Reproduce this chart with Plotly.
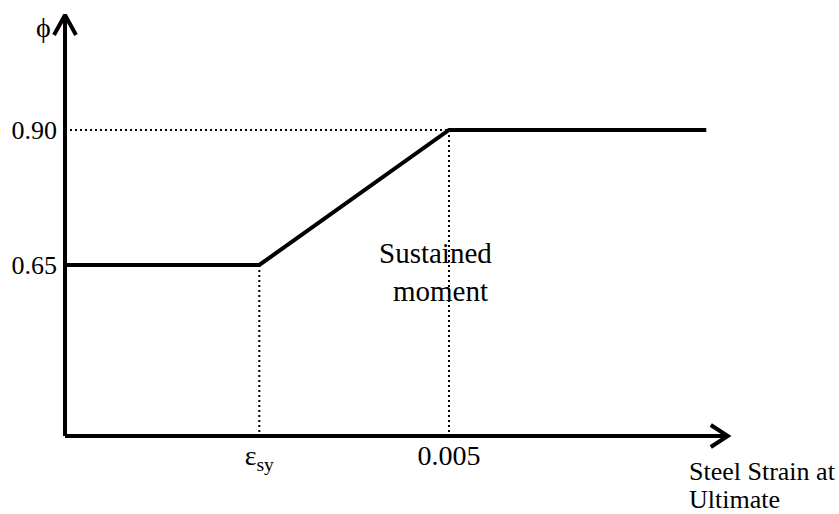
import plotly.graph_objects as go

# ---- data ----
phi_curve_x = [0.0, 0.00253, 0.005, 0.00835]   # steel strain (schematic)
phi_curve_y = [0.65, 0.65, 0.90, 0.90]           # strength reduction factor
eps_sy = 0.00253
eps_t = 0.005
phi_low = 0.65
phi_high = 0.90
x_tick_vals = [0.00253, 0.005]
x_tick_text = ["ε<sub>sy</sub>", "0.005"]
y_tick_vals = [0.65, 0.90]
y_tick_text = ["0.65", "0.90"]
x_origin, y_origin = 0.0, 0.3333
x_tip, y_tip = 0.00863, 1.113

# ---- figure geometry ----
W, H = 839, 514
OX, OY = 65, 436            # pixel position of the origin
kx = 0.005 / 384            # data units per pixel (x)
ky = 0.25 / 135             # data units per pixel (y)
x_range = [x_origin - OX * kx, x_origin + (W - OX) * kx]
y_range = [y_origin - (H - OY) * ky, y_origin + OY * ky]

FONT = "Liberation Serif, Times New Roman, serif"
fig = go.Figure()

# dotted guide lines
dot = dict(color="black", width=2, dash="2px,3px")
fig.add_trace(go.Scatter(x=[x_origin, eps_t], y=[phi_high, phi_high], mode="lines", line=dot, hoverinfo="skip"))
fig.add_trace(go.Scatter(x=[eps_sy, eps_sy], y=[phi_low, y_origin], mode="lines", line=dot, hoverinfo="skip"))
fig.add_trace(go.Scatter(x=[eps_t, eps_t], y=[phi_high, y_origin], mode="lines", line=dot, hoverinfo="skip"))

# main curve
fig.add_trace(go.Scatter(x=phi_curve_x, y=phi_curve_y, mode="lines",
                         line=dict(color="black", width=4), hoverinfo="skip"))

# axes with arrows
ax_line = dict(color="black", width=4)
fig.add_trace(go.Scatter(x=[x_origin, x_tip], y=[y_origin, y_origin], mode="lines", line=ax_line, hoverinfo="skip"))
fig.add_trace(go.Scatter(x=[x_origin, x_origin], y=[y_origin, y_tip], mode="lines", line=ax_line, hoverinfo="skip"))
# chevron heads
L, Wd = 17, 11
fig.add_trace(go.Scatter(x=[x_tip - L * kx, x_tip, x_tip - L * kx],
                         y=[y_origin + Wd * ky, y_origin, y_origin - Wd * ky],
                         mode="lines", line=dict(color="black", width=4), hoverinfo="skip"))
fig.add_trace(go.Scatter(x=[x_origin - Wd * kx, x_origin, x_origin + Wd * kx],
                         y=[y_tip - 20 * ky, y_tip, y_tip - 20 * ky],
                         mode="lines", line=dict(color="black", width=4), hoverinfo="skip"))

yfont = dict(family=FONT, size=26, color="black")
xfont = dict(family=FONT, size=28, color="black")
fig.update_layout(
    width=W, height=H,
    margin=dict(l=0, r=0, t=0, b=0),
    paper_bgcolor="white", plot_bgcolor="white",
    showlegend=False,
    xaxis=dict(range=x_range, domain=[0, 1], anchor="free", position=(H - OY) / H,
               tickvals=x_tick_vals, ticktext=x_tick_text, ticks="", showline=False,
               showgrid=False, zeroline=False, tickfont=xfont, automargin=False,
               ticklabelstandoff=0),
    yaxis=dict(range=y_range, domain=[0, 1], anchor="free", position=OX / W,
               tickvals=y_tick_vals, ticktext=y_tick_text, ticks="", showline=False,
               showgrid=False, zeroline=False, tickfont=yfont, automargin=False,
               ticklabelstandoff=8),
)

def px_to_data(px, py):
    return x_origin + (px - OX) * kx, y_origin + (OY - py) * ky

annots = [
    ("ϕ", 43, 27, "center", 28),
    ("Sustained", 435, 253, "center", 29),
    ("moment", 440, 291, "center", 29),
    ("Steel Strain at", 687, 471, "left", 26),
    ("Ultimate", 687, 499, "left", 26),
]
for txt, px, py, anc, sz in annots:
    x, y = px_to_data(px, py)
    fig.add_annotation(x=x, y=y, xref="x", yref="y", text=txt, showarrow=False,
                       xanchor=anc, yanchor="middle",
                       font=dict(family=FONT, size=sz, color="black"))

fig.write_html("out.html", config={"displayModeBar": False},
               post_script="document.body.style.margin='0';document.body.style.overflow='hidden';")
